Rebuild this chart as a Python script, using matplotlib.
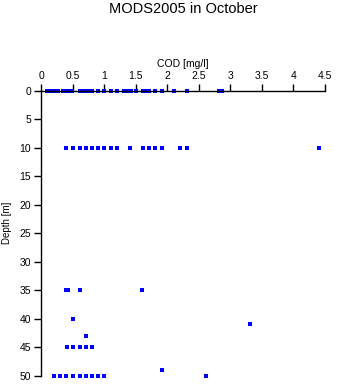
import matplotlib
matplotlib.use('Agg')
import matplotlib.pyplot as plt

plt.rcParams['font.family'] = ['Liberation Sans', 'DejaVu Sans']

# COD [mg/l] values by depth [m]
cod_0 = [0.10, 0.14, 0.19, 0.23, 0.27, 0.35, 0.39, 0.42, 0.46, 0.49, 0.61, 0.68,
         0.71, 0.76, 0.81, 0.91, 1.00, 1.11, 1.21, 1.31, 1.38, 1.42, 1.51, 1.61,
         1.68, 1.71, 1.81, 1.91, 2.11, 2.31, 2.82, 2.87]
cod_10 = [0.40, 0.51, 0.61, 0.71, 0.81, 0.91, 1.00, 1.11, 1.21, 1.41, 1.61,
          1.71, 1.81, 1.91, 2.21, 2.31, 4.40]
cod_35 = [0.39, 0.42, 0.61, 1.60]
cod_40 = [0.51]
cod_41 = [3.31]
cod_43 = [0.71]
cod_45 = [0.41, 0.51, 0.61, 0.71, 0.81]
cod_49 = [1.91]
cod_50 = [0.20, 0.30, 0.40, 0.51, 0.61, 0.71, 0.81, 0.90, 1.00, 2.61]

groups = [(0, cod_0), (10, cod_10), (35, cod_35), (40, cod_40), (41, cod_41),
          (43, cod_43), (45, cod_45), (49, cod_49), (50, cod_50)]

xs = []
ys = []
for depth, vals in groups:
    xs += vals
    ys += [depth] * len(vals)

fig = plt.figure(figsize=(3.37, 3.84), dpi=100)
ax = fig.add_axes([0.1217, 0.0221, 0.8427, 0.7417])

ax.plot(xs, ys, 's', color='#0000ff', markersize=2.3, markeredgewidth=0, clip_on=False)

ax.set_xlim(0, 4.5)
ax.set_ylim(50, 0)
ax.set_xticks([0, 0.5, 1, 1.5, 2, 2.5, 3, 3.5, 4, 4.5])
ax.set_xticklabels(['0', '0.5', '1', '1.5', '2', '2.5', '3', '3.5', '4', '4.5'])
ax.set_yticks(range(0, 51, 5))

ax.xaxis.tick_top()
ax.xaxis.set_label_position('top')
for s in ['right', 'bottom']:
    ax.spines[s].set_visible(False)
for s in ['left', 'top']:
    ax.spines[s].set_linewidth(1.0)
ax.tick_params(axis='both', direction='out', length=5, width=1.0, labelsize=7.5, pad=2)

ax.set_xlabel('COD [mg/l]', fontsize=7.5, labelpad=3)
ax.set_ylabel('Depth [m]', fontsize=7)
ax.yaxis.set_label_coords(-0.102, 0.537)

fig.text(0.543, 0.976, 'MODS2005 in October', ha='center', va='center', fontsize=10.5)

fig.savefig('out.png', dpi=100)
